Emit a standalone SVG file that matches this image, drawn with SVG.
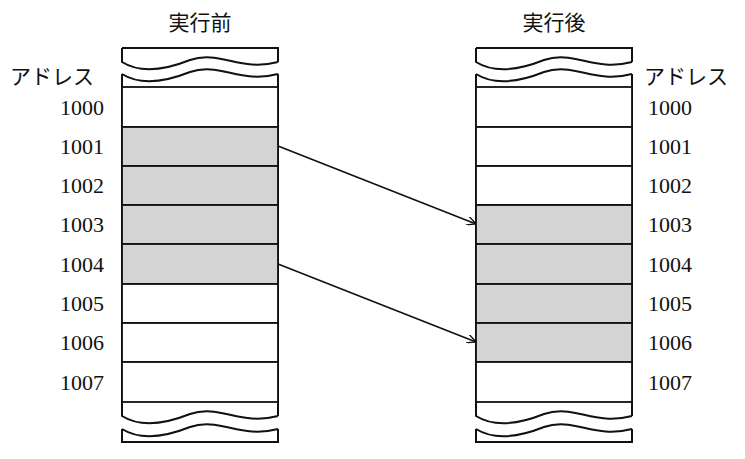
<svg xmlns="http://www.w3.org/2000/svg" width="745" height="459" viewBox="0 0 745 459">
<defs>
<style>
.b{fill:none;stroke:#111;stroke-width:2}
.c{fill:#fff;stroke:#111;stroke-width:1.8}
.s{fill:#d4d4d4;stroke:#111;stroke-width:1.8}
.t{font-family:"Liberation Serif","Noto Sans CJK JP",serif;font-size:21px;fill:#111}
.n{font-family:"Liberation Serif",serif;font-size:22px;fill:#111}
</style>
<marker id="a" viewBox="0 0 10 10" refX="10" refY="5" markerWidth="9" markerHeight="9" orient="auto" markerUnits="userSpaceOnUse"><path d="M0,0L10,5L0,10" fill="none" stroke="#111" stroke-width="1.5"/></marker>
<g id="w"><path class="b" d="M122,48H278V62M122,48V62C138,72 160,72 190,60C220,50 240,72 278,62M122,74C138,84 160,84 190,72C220,62 240,84 278,74"/></g>
<g id="wb"><path class="b" d="M122,402V416C138,426 160,426 190,414C220,404 240,426 278,416M122,429C138,439 160,439 190,427C220,417 240,439 278,429M122,429V442H278V429M278,402V416"/></g>
</defs>
<text class="t" x="200" y="30" text-anchor="middle">実行前</text>
<text class="t" x="554" y="30" text-anchor="middle">実行後</text>
<text class="t" x="10" y="84">アドレス</text>
<text class="t" x="644" y="84">アドレス</text>
<g id="left">
<use href="#w"/><use href="#wb"/>
<path class="b" d="M122,74V402M278,74V402"/>
<rect class="c" x="122" y="87" width="156" height="40"/>
<rect class="s" x="122" y="127" width="156" height="39"/>
<rect class="s" x="122" y="166" width="156" height="39"/>
<rect class="s" x="122" y="205" width="156" height="39"/>
<rect class="s" x="122" y="244" width="156" height="40"/>
<rect class="c" x="122" y="284" width="156" height="39"/>
<rect class="c" x="122" y="323" width="156" height="39"/>
<rect class="c" x="122" y="362" width="156" height="40"/>
</g>
<g id="right" transform="translate(354,0)">
<use href="#w"/><use href="#wb"/>
<path class="b" d="M122,74V402M278,74V402"/>
<rect class="c" x="122" y="87" width="156" height="40"/>
<rect class="c" x="122" y="127" width="156" height="39"/>
<rect class="c" x="122" y="166" width="156" height="39"/>
<rect class="s" x="122" y="205" width="156" height="39"/>
<rect class="s" x="122" y="244" width="156" height="40"/>
<rect class="s" x="122" y="284" width="156" height="39"/>
<rect class="s" x="122" y="323" width="156" height="39"/>
<rect class="c" x="122" y="362" width="156" height="40"/>
</g>
<g id="labels-left" class="n" text-anchor="end">
<text x="104" y="115">1000</text><text x="104" y="154">1001</text><text x="104" y="193">1002</text><text x="104" y="232">1003</text><text x="104" y="272">1004</text><text x="104" y="311">1005</text><text x="104" y="350">1006</text><text x="104" y="390">1007</text>
</g>
<g id="labels-right" class="n">
<text x="648" y="115">1000</text><text x="648" y="154">1001</text><text x="648" y="193">1002</text><text x="648" y="232">1003</text><text x="648" y="272">1004</text><text x="648" y="311">1005</text><text x="648" y="350">1006</text><text x="648" y="390">1007</text>
</g>
<g id="connectors" fill="none" stroke="#111" stroke-width="1.6">
<line x1="278" y1="146" x2="476" y2="224" marker-end="url(#a)"/>
<line x1="278" y1="264" x2="476" y2="342" marker-end="url(#a)"/>
</g>
</svg>
